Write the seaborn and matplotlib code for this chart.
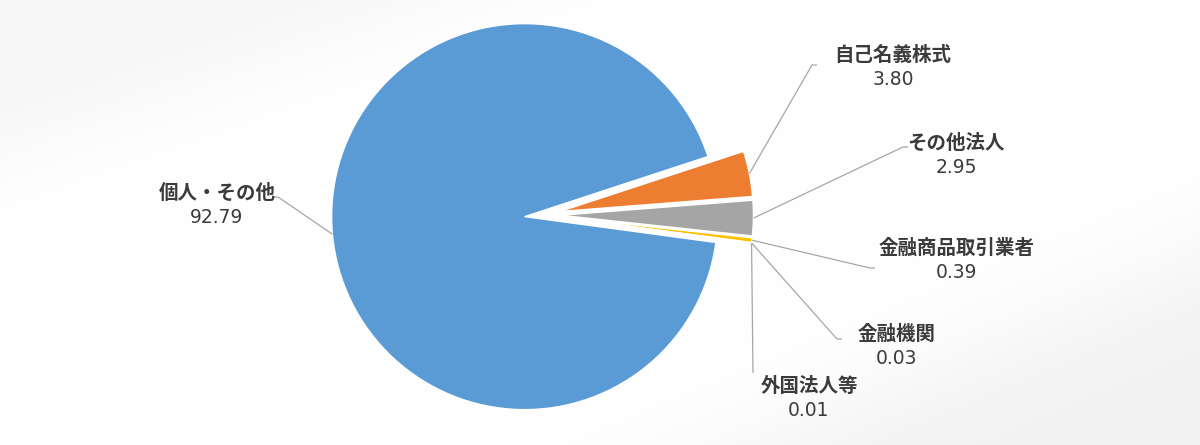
import numpy as np
import matplotlib
matplotlib.use("Agg")
import matplotlib.pyplot as plt
import seaborn as sns

# ---- data ----
categories = ['個人・その他', '自己名義株式', 'その他法人', '金融商品取引業者', '金融機関', '外国法人等']
values = [92.79, 3.80, 2.95, 0.39, 0.03, 0.01]
value_labels = ['92.79', '3.80', '2.95', '0.39', '0.03', '0.01']
slice_colors = ['#5B9BD5', '#ED7D31', '#A5A5A5', '#FFC000', '#4472C4', '#70AD47']

sns.set_theme(style="white")
plt.rcParams['font.family'] = ['Noto Sans CJK JP', 'DejaVu Sans']

W, H = 1200, 445
fig = plt.figure(figsize=(W / 100, H / 100), dpi=100)
fig.patch.set_facecolor('white')

# background soft gradient
bg = fig.add_axes([0, 0, 1, 1], zorder=0)
yy, xx = np.mgrid[0:H, 0:W].astype(float)
def sig(z):
    return 1.0 / (1.0 + np.exp(-z))
d1 = (xx * 150 + yy * 430 - 150 * 430) / np.hypot(150, 430)   # top-left band
d2 = ((xx - 760) * (-185) - (yy - 445) * 440) / np.hypot(185, 440)  # bottom-right band
shade = 1 - 0.035 * sig(-d1 / 25.0) - 0.05 * sig(-d2 / 30.0)
bg.imshow(np.dstack([shade] * 3), extent=[0, W, H, 0], aspect='auto', interpolation='bilinear')
bg.set_xlim(0, W); bg.set_ylim(H, 0); bg.axis('off')

# pie axes covering the whole figure, 1 data unit = R pixels
R = 193.0
CX, CY = 542.5, 215.0
ax = fig.add_axes([0, 0, 1, 1], zorder=1)
ax.patch.set_alpha(0)
ax.axis('off')

def px(x, y):
    return ((x - CX) / R, (CY - y) / R)

pal = sns.color_palette(slice_colors)
wedges, _ = ax.pie(values, colors=pal, startangle=-7.7, counterclock=False,
                   explode=[0.093] * len(values), radius=1.0, center=(0, 0),
                   wedgeprops=dict(edgecolor='white', linewidth=1.0))
ax.set_aspect('auto')
ax.set_xlim(-CX / R, (W - CX) / R)
ax.set_ylim(-(H - CY) / R, CY / R)

# label layout (pixel positions): elbow point, elbow end, text center
layout = [
    ((278, 197), (272, 197), (217, 205)),
    ((812, 65), (817, 65), (893, 67)),
    ((903, 147), (908, 147), (956, 155)),
    ((870, 268), (875, 268), (957, 260)),
    ((837, 339), (842, 339), (897, 346)),
    ((753, 373), (753, 373), (809, 398)),
]

line_col = '#A6A6A6'
txt_col = '#3B3B3B'
for w, name, val, (elb, end, tc) in zip(wedges, categories, value_labels, layout):
    mid = np.deg2rad((w.theta1 + w.theta2) / 2)
    cx, cy = w.center
    ax_, ay_ = cx + w.r * np.cos(mid), cy + w.r * np.sin(mid)
    ex, ey = px(*elb)
    nx, ny = px(*end)
    ax.plot([ax_, ex, nx], [ay_, ey, ny], color=line_col, lw=0.9, zorder=3,
            solid_capstyle='butt')
    tx, ty = px(tc[0], tc[1] - 12)
    ax.text(tx, ty, name, ha='center', va='center', fontsize=14, fontweight='bold',
            color=txt_col, family=['Noto Sans CJK JP', 'DejaVu Sans'], zorder=4)
    tx, ty = px(tc[0], tc[1] + 12.5)
    ax.text(tx, ty, val, ha='center', va='center', fontsize=13.5,
            color=txt_col, family=['DejaVu Sans'], zorder=4)

fig.savefig('out.png', dpi=100)
